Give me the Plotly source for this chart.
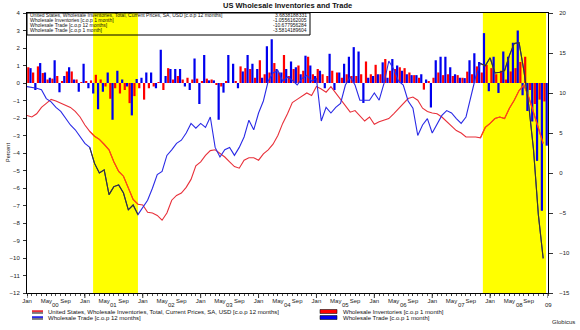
import numpy as np
import plotly.graph_objects as go

# ---------------- data (monthly, Jan 2000 .. Dec 2008) ----------------
month_index = list(range(108))
year_labels = ["00", "01", "02", "03", "04", "05", "06", "07", "08", "09"]
month_tick_labels = ["Jan", "May", "Sep"]

# Wholesale Inventories, c.o.p 12 months (right axis)
inv_12m = [
    7.2, 7.0, 7.4, 8.2, 8.7, 9.2, 9.0, 8.7, 8.5, 8.2, 7.7, 7.0,
    6.0, 5.2, 4.6, 4.2, 3.6, 2.9, 1.4, 0.2, -0.4, -1.8, -3.3, -3.9,
    -4.0, -4.9, -5.0, -5.3, -5.9, -5.0, -3.4, -2.8, -2.5, -1.8, -0.8, 0.9,
    1.4, 2.2, 2.8, 2.9, 2.5, 2.0, 1.4, 0.8, 0.6, 1.6, 1.9, 1.9,
    1.6, 2.4, 2.9, 3.6, 4.7, 6.2, 7.4, 8.8, 9.2, 9.6, 10.0, 9.7,
    10.8, 10.5, 10.1, 10.8, 10.0, 9.3, 8.5, 7.6, 7.8, 7.2, 6.5, 7.0,
    6.1, 6.4, 6.6, 6.8, 7.4, 8.0, 8.7, 9.3, 9.5, 9.1, 8.1, 7.7,
    7.5, 7.4, 7.0, 6.4, 5.8, 5.3, 5.0, 4.5, 4.5, 4.5, 4.4, 5.7,
    6.2, 6.8, 7.0, 6.8, 8.1, 9.1, 10.3, 11.0, 9.5, 7.5, 5.5, 3.6838188331,
]

# Wholesale Trade, c.o.p 12 months (right axis)
trade_12m = [
    10.8, 10.7, 10.6, 10.4, 9.3, 8.9, 8.2, 7.7, 6.8, 6.0, 5.4, 4.6,
    3.7, 3.2, 1.2, 0.0, 0.4, -2.7, -1.7, -1.5, -2.5, -4.6, -4.0, -5.2,
    -4.3, -3.4, -1.9, -0.2, 0.2, 2.2, 2.9, 3.7, 4.1, 5.0, 6.2, 5.6,
    6.2, 5.7, 7.0, 3.2, 2.0, 2.9, 3.2, 2.2, 3.2, 4.5, 6.6, 5.4,
    7.5, 9.0, 11.5, 12.5, 12.8, 11.5, 12.0, 11.6, 11.0, 11.8, 12.2, 11.5,
    11.8, 6.5, 8.2, 7.5, 8.2, 8.7, 11.0, 12.0, 11.0, 9.1, 9.1, 9.1,
    10.0, 9.1, 11.2, 14.0, 13.0, 11.5, 11.0, 9.0, 8.1, 4.7, 6.0, 6.8,
    5.0, 6.2, 7.2, 7.8, 7.5, 6.8, 6.2, 7.0, 9.5, 12.0, 13.7, 13.4,
    14.4, 12.5, 12.6, 12.8, 14.7, 16.2, 16.3, 12.8, 8.5, 2.9, -5.2, -10.677956284,
]

# Wholesale Inventories, c.o.p 1 month (left axis)
inv_1m = [
    0.9, 0.6, 0.95, 0.57, 0.2, 0.25, 0.4, 0.1, 0.66, 0.66, 0.2, 0.05,
    0.1, 0.15, 0.47, 0.2, -0.2, -0.9, -0.3, -0.6, -0.4, -1.15, -0.75, -0.3,
    -0.95, -0.3, -0.2, 0.05, -0.4, 0.85, 0.2, 0.4, 0.2, 0.3, 0.2, 0.25,
    0.1, 0.25, 0.2, -0.1, -0.2, 0.1, 0.0, 0.1, 0.95, 0.85, 0.8, 0.3,
    1.3, 0.5, 0.6, 1.14, 0.6, 1.6, 0.4, 0.8, 1.0, 0.7, 1.5, 0.5,
    0.8, 0.5, 0.4, 0.7, 0.6, 0.3, 0.5, 0.4, 0.4, 0.5, 1.23, 0.5,
    1.04, 0.5, 1.37, 0.7, 0.8, 0.9, 0.85, 0.6, 0.45, 0.3, -0.38, 0.1,
    0.3, 0.6, 0.45, 0.5, 0.4, 0.45, 0.3, 0.65, 0.5, 0.95, 0.6, 1.04,
    0.85, 0.5, 0.7, 0.2, 0.66, 0.85, 1.2, 1.5, -0.4, -1.2, -0.95, -1.0556162005,
]

# Wholesale Trade, c.o.p 1 month (left axis)
trade_1m = [
    0.85, -0.4, 1.14, 0.6, 0.3, 1.3, -0.53, 0.4, 0.9, 0.2, -0.5, 1.1,
    -0.3, -0.6, -1.5, -0.5, 0.6, -2.1, 0.7, 0.2, -0.2, -1.85, 0.23, 0.3,
    0.6, 0.6, -0.3, 1.9, 0.4, 0.8, 0.8, 0.8, -0.2, -0.4, 1.4, -1.2,
    1.6, 0.15, 0.15, -2.1, -0.55, 1.6, 1.1, -0.3, 0.66, 1.6, 1.1, 0.8,
    0.3, 2.1, 2.5, 0.8, 0.6, 0.8, 1.23, 0.9, 0.5, 1.56, 1.0, 0.4,
    0.7, -0.3, 1.67, -0.4, 0.6, 1.1, 1.5, 2.05, 1.8, -1.14, 0.3, 0.4,
    0.5, 1.18, 0.3, 1.37, 1.0, 0.7, 0.5, 0.45, 0.45, 0.5, 0.2, -1.4,
    1.3, 1.5, 1.5, 0.9, 0.5, 0.3, 0.28, 1.3, 1.7, 1.2, 2.85, -0.47,
    1.5, -0.57, 1.8, 1.5, 2.3, 3.0, -0.7, -1.6, -2.2, -4.45, -7.3, -3.5814189604,
]

# shaded periods (in month index units)
shade_start = [13.7, 94.5]
shade_end = [23.0, 107.6]

series_names = [
    "United States, Wholesale Inventories, Total, Current Prices, SA, USD [c.o.p 12 months]",
    "Wholesale Inventories [c.o.p 1 month]",
    "Wholesale Trade [c.o.p 12 months]",
    "Wholesale Trade [c.o.p 1 month]",
]
last_values = ["3.6838188331", "-1.0556162005", "-10.677956284", "-3.5814189604"]

# ---------------- styling ----------------
FONT = "Liberation Sans"
RED = "#ff0000"
BLUE = "#0000ee"
RED_LINE = "#e8303a"
BLUE_LINE = "#2a2ae6"
BLUE_IN_YELLOW = "#3a3a20"
RED_IN_YELLOW = "#ff4a10"

m = np.array(month_index, dtype=float)


def in_shade(vals):
    out = []
    for i, v in enumerate(vals):
        ok = any(np.floor(s) <= m[i] <= np.ceil(e) for s, e in zip(shade_start, shade_end))
        out.append(v if ok else None)
    return out


fig = go.Figure()

fig.add_trace(go.Bar(x=m + 0.5, y=inv_1m, marker=dict(color=RED, line=dict(width=0)),
                     name=series_names[1], yaxis="y"))
fig.add_trace(go.Bar(x=m + 0.5, y=trade_1m, marker=dict(color=BLUE, line=dict(width=0)),
                     name=series_names[3], yaxis="y"))

fig.add_trace(go.Scatter(x=m, y=inv_12m, mode="lines", line=dict(color=RED_LINE, width=1.1),
                         name=series_names[0], yaxis="y2"))
fig.add_trace(go.Scatter(x=m, y=in_shade(inv_12m), mode="lines",
                         line=dict(color=RED_IN_YELLOW, width=1.1), yaxis="y2", showlegend=False))
fig.add_trace(go.Scatter(x=m, y=trade_12m, mode="lines", line=dict(color=BLUE_LINE, width=1.1),
                         name=series_names[2], yaxis="y2"))
fig.add_trace(go.Scatter(x=m, y=in_shade(trade_12m), mode="lines",
                         line=dict(color=BLUE_IN_YELLOW, width=1.1), yaxis="y2", showlegend=False))

shapes = []
for s, e in zip(shade_start, shade_end):
    shapes.append(dict(type="rect", xref="x", yref="paper", x0=s, x1=e, y0=0, y1=1,
                       fillcolor="#ffff00", line=dict(width=0), layer="below"))

# longer ticks at January
for yv in range(10):
    shapes.append(dict(type="line", xref="x", yref="paper", x0=12 * yv, x1=12 * yv,
                       y0=0, y1=-0.018, line=dict(color="#333", width=1)))

# legend box at top-left
shapes.append(dict(type="rect", xref="paper", yref="paper", x0=0, x1=(310 - 27) / 521,
                   y0=1 - 22 / 280, y1=1, line=dict(color="black", width=1)))

tickvals, ticktext = [], []
for yv in range(9):
    for k, lab in zip([0, 4, 8], month_tick_labels):
        tickvals.append(12 * yv + k)
        ticktext.append(lab)

annotations = []
# year labels
for i, lab in enumerate(year_labels):
    xpos = 12 * i + 6 if i < 9 else 108
    annotations.append(dict(x=xpos, y=0, xref="x", yref="paper", text=lab, showarrow=False,
                            yanchor="top", yshift=-7, font=dict(family=FONT, size=6, color="#222")))

# title
annotations.append(dict(x=0.5, y=1, xref="paper", yref="paper", text="<b>US Wholesale Inventories and Trade</b>",
                        showarrow=False, yanchor="middle", yshift=8,
                        font=dict(family=FONT, size=7.5, color="#111")))

# y-axis title
annotations.append(dict(x=0, y=0.5, xref="paper", yref="paper", text="Percent", textangle=-90,
                        showarrow=False, xanchor="center", xshift=-19,
                        font=dict(family=FONT, size=5.5, color="#222")))

# top-left info box rows
for i, (nm, val) in enumerate(zip(series_names, last_values)):
    ypix = 15.3 + i * 5.0
    yp = 1 - (ypix - 13) / 280
    annotations.append(dict(x=0, y=yp, xref="paper", yref="paper", text=nm, showarrow=False,
                            xanchor="left", yanchor="middle", xshift=1,
                            font=dict(family=FONT, size=5, color="#111")))
    annotations.append(dict(x=(309 - 27) / 521, y=yp, xref="paper", yref="paper", text=val,
                            showarrow=False, xanchor="right", yanchor="middle",
                            font=dict(family=FONT, size=5, color="#111")))

# bottom legend (drawn manually)
leg_rows = [(311.5, 0, 0), (317.5, 2, 0), (311.5, 1, 1), (317.5, 3, 1)]
leg_colors = [RED_LINE, RED, BLUE_LINE, BLUE]
for ypix, idx, col in leg_rows:
    yp = 1 - (ypix - 13) / 280
    if col == 0:
        x0p, x1p, tx = 32, 43, 46
        shapes.append(dict(type="line", xref="paper", yref="paper",
                           x0=(x0p - 27) / 521, x1=(x1p - 27) / 521, y0=yp + 0.3 / 280, y1=yp + 0.3 / 280,
                           line=dict(color=leg_colors[idx], width=2)))
        shapes.append(dict(type="line", xref="paper", yref="paper",
                           x0=(x0p - 27) / 521, x1=(x1p - 27) / 521, y0=yp - 1.5 / 280, y1=yp - 1.5 / 280,
                           line=dict(color="#111", width=1)))
    else:
        x0p, x1p, tx = 320, 337, 341
        shapes.append(dict(type="rect", xref="paper", yref="paper",
                           x0=(x0p - 27) / 521, x1=(x1p - 27) / 521, y0=yp - 2 / 280, y1=yp + 2 / 280,
                           fillcolor=leg_colors[idx], line=dict(color="#111", width=0.6)))
    annotations.append(dict(x=(tx - 27) / 521, y=yp, xref="paper", yref="paper", text=series_names[idx],
                            showarrow=False, xanchor="left", yanchor="middle",
                            font=dict(family=FONT, size=6, color="#111")))

annotations.append(dict(x=(577 - 27) / 521, y=1 - (322 - 13) / 280, xref="paper", yref="paper",
                        text="Globicus", showarrow=False, xanchor="right", yanchor="middle",
                        font=dict(family=FONT, size=6, color="#222")))

fig.update_layout(
    width=580, height=330,
    margin=dict(l=27, r=32, t=13, b=37, autoexpand=False),
    paper_bgcolor="white", plot_bgcolor="white",
    showlegend=False,
    barmode="group", bargap=0.08, bargroupgap=0.0,
    font=dict(family=FONT, size=6, color="#222"),
    shapes=shapes, annotations=annotations,
    xaxis=dict(range=[0, 108], tickvals=tickvals, ticktext=ticktext, ticks="outside", ticklen=2,
               tickcolor="#333", showgrid=False, zeroline=False, showline=True, linecolor="black",
               linewidth=1, mirror=True, tickfont=dict(family=FONT, size=6, color="#222"),
               minor=dict(dtick=1, tick0=0, ticks="outside", ticklen=1.5, tickcolor="#555")),
    yaxis=dict(range=[-12, 4], dtick=1, ticks="outside", ticklen=3, tickcolor="#333",
               showgrid=False, zeroline=False, showline=True, linecolor="black", linewidth=1,
               tickfont=dict(family=FONT, size=6, color="#222"), ticklabelstandoff=2),
    yaxis2=dict(range=[-15, 20], dtick=5, overlaying="y", side="right", ticks="outside", ticklen=4,
                tickcolor="#333", showgrid=False, zeroline=False, showline=True, linecolor="black",
                linewidth=1, tickfont=dict(family=FONT, size=6, color="#222"), ticklabelstandoff=5),
)

fig.write_html("out.html")
